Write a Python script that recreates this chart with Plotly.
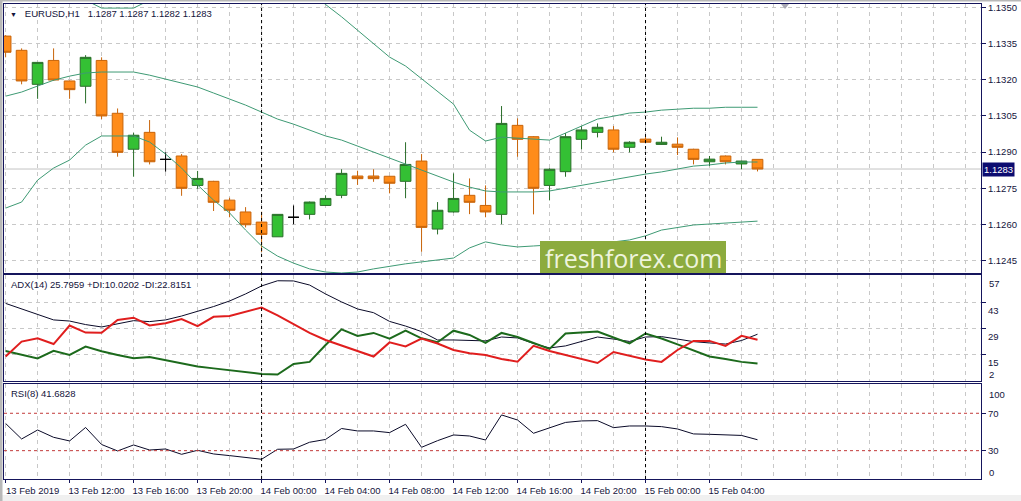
import plotly.graph_objects as go

# ---------------- data ----------------
symbol = "EURUSD,H1"
bars = list(range(48))  # hourly bars 13 Feb 08:00 ... 15 Feb 07:00
x_tick_bars = [0, 4, 8, 12, 16, 20, 24, 28, 32, 36, 40, 44]
x_tick_labels = ["13 Feb 2019", "13 Feb 12:00", "13 Feb 16:00", "13 Feb 20:00",
                 "14 Feb 00:00", "14 Feb 04:00", "14 Feb 08:00", "14 Feb 12:00",
                 "14 Feb 16:00", "14 Feb 20:00", "15 Feb 00:00", "15 Feb 04:00"]
day_separator_bars = [16, 40]

opens = [1.13381, 1.13322, 1.13181, 1.13280, 1.13195, 1.13173, 1.13280, 1.13061,
         1.12912, 1.12982, 1.12870, 1.12884, 1.12762, 1.12779, 1.12701, 1.12652,
         1.12610, 1.12549, 1.12630, 1.12642, 1.12679, 1.12721, 1.12801, 1.12801,
         1.12800, 1.12779, 1.12863, 1.12581, 1.12652, 1.12721, 1.12679, 1.12642,
         1.13011, 1.12964, 1.12762, 1.12819, 1.12953, 1.12982, 1.12992, 1.12920,
         1.12954, 1.12932, 1.12933, 1.12912, 1.12860, 1.12884, 1.12851, 1.12870]
highs = [1.13385, 1.13330, 1.13272, 1.13330, 1.13197, 1.13302, 1.13293, 1.13081,
         1.12980, 1.13033, 1.12899, 1.12892, 1.12822, 1.12781, 1.12711, 1.12672,
         1.12653, 1.12642, 1.12679, 1.12695, 1.12721, 1.12829, 1.12823, 1.12829,
         1.12801, 1.12941, 1.12892, 1.12693, 1.12812, 1.12791, 1.12762, 1.13091,
         1.13040, 1.12966, 1.12833, 1.12979, 1.13008, 1.13019, 1.13008, 1.12945,
         1.12963, 1.12964, 1.12961, 1.12914, 1.12884, 1.12886, 1.12865, 1.12870]
lows = [1.13293, 1.13181, 1.13121, 1.13195, 1.13121, 1.13102, 1.13037, 1.12881,
        1.12798, 1.12849, 1.12819, 1.12719, 1.12748, 1.12656, 1.12630, 1.12588,
        1.12486, 1.12549, 1.12601, 1.12621, 1.12677, 1.12709, 1.12764, 1.12777,
        1.12729, 1.12709, 1.12487, 1.12559, 1.12650, 1.12643, 1.12630, 1.12601,
        1.12881, 1.12642, 1.12700, 1.12798, 1.12912, 1.12961, 1.12899, 1.12899,
        1.12940, 1.12930, 1.12888, 1.12849, 1.12842, 1.12849, 1.12829, 1.12820]
closes = [1.13314, 1.13195, 1.13272, 1.13199, 1.13159, 1.13293, 1.13050, 1.12899,
          1.12970, 1.12860, 1.12870, 1.12750, 1.12791, 1.12692, 1.12659, 1.12599,
          1.12559, 1.12642, 1.12630, 1.12693, 1.12708, 1.12812, 1.12790, 1.12790,
          1.12771, 1.12849, 1.12588, 1.12659, 1.12708, 1.12692, 1.12652, 1.13019,
          1.12953, 1.12750, 1.12829, 1.12964, 1.12992, 1.13003, 1.12912, 1.12941,
          1.12941, 1.12941, 1.12920, 1.12870, 1.12871, 1.12860, 1.12863, 1.12830]

bb_upper = [1.13596, 1.13605, 1.13564, 1.13562, 1.13563, 1.13530, 1.13497, 1.13497,
            1.13497, 1.13530, 1.13560, 1.13538, 1.13576, 1.13589, 1.13592, 1.13613,
            1.13621, 1.13605, 1.13592, 1.13568, 1.13512, 1.13461, 1.13406, 1.13352,
            1.13294, 1.13257, 1.13203, 1.13149, 1.13099, 1.12991, 1.12946, 1.12962,
            1.12958, 1.12954, 1.12950, 1.12979, 1.13008, 1.13037, 1.13049, 1.13062,
            1.13066, 1.13074, 1.13078, 1.13082, 1.13082, 1.13086, 1.13086, 1.13086]
bb_middle = [1.13132, 1.13149, 1.13174, 1.13198, 1.13215, 1.13228, 1.13232, 1.13232,
             1.13232, 1.13219, 1.13203, 1.13186, 1.13170, 1.13145, 1.13120, 1.13095,
             1.13066, 1.13037, 1.13016, 1.12992, 1.12967, 1.12950, 1.12925, 1.12900,
             1.12876, 1.12851, 1.12826, 1.12801, 1.12776, 1.12755, 1.12739, 1.12735,
             1.12735, 1.12735, 1.12739, 1.12751, 1.12760, 1.12772, 1.12784, 1.12797,
             1.12809, 1.12818, 1.12830, 1.12842, 1.12847, 1.12855, 1.12859, 1.12859]
bb_lower = [1.12668, 1.12693, 1.12784, 1.12834, 1.12867, 1.12929, 1.12967, 1.12967,
            1.12967, 1.12942, 1.12892, 1.12834, 1.12764, 1.12701, 1.12648, 1.12577,
            1.12511, 1.12469, 1.12440, 1.12416, 1.12403, 1.12399, 1.12403, 1.12416,
            1.12428, 1.12437, 1.12445, 1.12453, 1.12461, 1.12503, 1.12528, 1.12515,
            1.12507, 1.12511, 1.12515, 1.12519, 1.12519, 1.12523, 1.12528, 1.12536,
            1.12553, 1.12577, 1.12589, 1.12598, 1.12602, 1.12606, 1.12610, 1.12614]

adx = [42.4, 39.4, 36.4, 33.5, 32.9, 31.0, 29.7, 31.3, 33.1, 32.6, 33.5, 35.6,
       38.0, 40.7, 43.7, 47.5, 51.8, 54.6, 54.5, 52.3, 47.5, 43.2, 39.4, 37.4,
       32.7, 30.2, 27.2, 22.7, 22.7, 22.4, 22.2, 24.3, 23.8, 20.8, 18.4, 19.5,
       21.9, 24.3, 23.2, 21.9, 24.3, 24.5, 23.2, 21.8, 21.1, 20.5, 22.4, 25.7959]
plus_di = [16.8, 14.6, 12.8, 16.9, 14.6, 19.1, 16.6, 14.6, 12.8, 13.5, 11.7, 10.0,
           8.4, 7.4, 6.3, 5.2, 4.4, 4.1, 9.8, 10.9, 20.0, 28.4, 24.9, 26.5,
           23.4, 27.7, 23.6, 21.5, 27.7, 25.4, 21.1, 26.5, 24.3, 21.1, 17.9, 26.2,
           26.7, 27.2, 24.0, 20.9, 26.2, 23.5, 20.3, 17.0, 13.8, 12.5, 10.9, 10.0202]
minus_di = [13.8, 21.8, 23.6, 20.5, 30.5, 26.7, 26.6, 33.5, 34.7, 30.5, 31.7, 34.0,
            30.2, 35.2, 35.6, 37.8, 40.2, 35.9, 31.0, 26.5, 22.7, 19.7, 16.8, 13.8,
            21.4, 19.2, 23.5, 20.8, 17.3, 15.5, 14.6, 12.5, 11.0, 19.5, 16.8, 14.6,
            12.5, 10.3, 16.2, 14.1, 12.2, 10.9, 17.3, 22.2, 22.2, 19.5, 24.9, 22.8151]
rsi = [59.1, 42.5, 52.1, 44.3, 40.4, 54.8, 36.6, 29.7, 36.1, 30.7, 31.8, 26.1,
       30.4, 26.5, 24.7, 22.9, 20.8, 31.5, 31.8, 39.0, 42.0, 53.7, 51.1, 51.1,
       49.3, 58.2, 33.6, 40.7, 46.8, 45.7, 41.4, 68.2, 62.8, 48.6, 54.3, 60.2,
       61.8, 62.1, 54.6, 56.4, 56.4, 55.7, 53.2, 47.9, 47.5, 47.2, 46.3, 41.6828]

price_ticks = [1.1245, 1.1260, 1.1275, 1.1290, 1.1305, 1.1320, 1.1335, 1.1350]
adx_ticks = [15, 29, 43]
adx_scale_labels = [57, 2]
rsi_levels = [30, 70]
rsi_scale_labels = [100, 0]

# ---------------- style ----------------
W, H = 1021, 501
ML, MR, MT, MB = 4, 40, 4, 22
PW, PH = W - ML - MR, H - MT - MB
NAVY = "#15155c"
TEXT = "#14143c"
GRID = "#c8c8c8"
BB = "#3e9a74"
FONT = "Liberation Sans"
FS = 9.5


def px_x(p):
    return (p - ML) / PW


def px_y(p):
    return (H - MB - p) / PH


dom_main = [px_y(273), 1.0]
dom_adx = [px_y(381), px_y(275)]
dom_rsi = [0.0, px_y(384)]
x_range = [-0.1, 60.97]

is_doji = [o == c for o, c in zip(opens, closes)]
normal = [not d for d in is_doji]


def pick(vals, keep):
    return [v if k else None for v, k in zip(vals, keep)]


fig = go.Figure()

fig.add_trace(go.Candlestick(
    x=bars, open=pick(opens, normal), high=pick(highs, normal),
    low=pick(lows, normal), close=pick(closes, normal),
    increasing=dict(fillcolor="#34c034", line=dict(color="#2a6e2a", width=1)),
    decreasing=dict(fillcolor="#ff8c1a", line=dict(color="#c8640a", width=1)),
    whiskerwidth=0, xaxis="x", yaxis="y", hoverinfo="skip"))
fig.add_trace(go.Candlestick(
    x=bars, open=pick(opens, is_doji), high=pick(highs, is_doji),
    low=pick(lows, is_doji), close=pick(closes, is_doji),
    increasing=dict(fillcolor="#000000", line=dict(color="#000000", width=1)),
    decreasing=dict(fillcolor="#000000", line=dict(color="#000000", width=1)),
    whiskerwidth=0, xaxis="x", yaxis="y", hoverinfo="skip"))

for band in (bb_upper, bb_middle, bb_lower):
    fig.add_trace(go.Scatter(x=bars, y=band, mode="lines",
                             line=dict(color=BB, width=1), xaxis="x", yaxis="y",
                             hoverinfo="skip"))

fig.add_trace(go.Scatter(x=bars, y=adx, mode="lines", line=dict(color="#0a0a28", width=1),
                         xaxis="x2", yaxis="y2", hoverinfo="skip"))
fig.add_trace(go.Scatter(x=bars, y=plus_di, mode="lines", line=dict(color="#1c6a1c", width=2),
                         xaxis="x2", yaxis="y2", hoverinfo="skip"))
fig.add_trace(go.Scatter(x=bars, y=minus_di, mode="lines", line=dict(color="#e01e1e", width=2),
                         xaxis="x2", yaxis="y2", hoverinfo="skip"))
fig.add_trace(go.Scatter(x=bars, y=rsi, mode="lines", line=dict(color="#0a0a28", width=1),
                         xaxis="x3", yaxis="y3", hoverinfo="skip"))

grid_minor = dict(tickmode="linear", tick0=0, dtick=2, showgrid=True,
                  gridcolor=GRID, griddash="4px,4px", gridwidth=1)
xcommon = dict(range=x_range, tickmode="array", tickvals=x_tick_bars, ticktext=x_tick_labels,
               showgrid=True, gridcolor=GRID, griddash="4px,4px", gridwidth=1,
               minor=grid_minor, showline=True, mirror=True, linecolor=NAVY, linewidth=1,
               zeroline=False, automargin=False, fixedrange=True,
               rangeslider=dict(visible=False))
ycommon = dict(side="right", showline=True, mirror=True, linecolor=NAVY, linewidth=1,
               zeroline=False, automargin=False, fixedrange=True, ticks="outside",
               ticklen=4, tickcolor=NAVY, tickfont=dict(family=FONT, size=FS, color=TEXT),
               gridcolor=GRID, griddash="4px,4px", gridwidth=1)

fig.update_layout(
    width=W, height=H, margin=dict(l=ML, r=MR, t=MT, b=MB, pad=0),
    template="none", paper_bgcolor="white", plot_bgcolor="white",
    showlegend=False, boxgap=0.33, boxgroupgap=0,
    font=dict(family=FONT, size=FS, color=TEXT),
    xaxis=dict(xcommon, anchor="y", showticklabels=False, ticks=""),
    xaxis2=dict(xcommon, anchor="y2", matches="x", showticklabels=False, ticks=""),
    xaxis3=dict(xcommon, anchor="y3", matches="x", showticklabels=True, ticks="outside",
                ticklen=3, tickcolor=NAVY, tickangle=0, ticklabelshift=27,
                tickfont=dict(family=FONT, size=FS, color=TEXT)),
    yaxis=dict(ycommon, domain=dom_main, anchor="x", range=[1.12399, 1.13514],
               tickmode="array", tickvals=price_ticks, tickformat=".4f", showgrid=True),
    yaxis2=dict(ycommon, domain=dom_adx, anchor="x2", range=[0.6, 57.7],
                tickmode="array", tickvals=adx_ticks, showgrid=True, ticklabelshift=8),
    yaxis3=dict(ycommon, domain=dom_rsi, anchor="x3", range=[-0.3, 101.3],
                tickmode="array", tickvals=rsi_levels, showgrid=False),
)

shapes = []
# period separators
for b in day_separator_bars:
    shapes.append(dict(type="line", xref="x", yref="paper", x0=b, x1=b, y0=0, y1=1,
                       line=dict(color="#000000", width=1, dash="3px,3px"), layer="above"))
# bid line
shapes.append(dict(type="line", xref="x domain", yref="y", x0=0, x1=1,
                   y0=closes[-1], y1=closes[-1], line=dict(color="#c4c4c4", width=1),
                   layer="below"))
# RSI levels
for lv in rsi_levels:
    shapes.append(dict(type="line", xref="x3 domain", yref="y3", x0=0, x1=1, y0=lv, y1=lv,
                       line=dict(color="#c23a3a", width=1, dash="3px,3px"), layer="above"))
# watermark box
shapes.append(dict(type="rect", xref="paper", yref="paper", x0=px_x(540), x1=px_x(726),
                   y0=px_y(273), y1=px_y(241), fillcolor="#8cab3e", line=dict(width=0),
                   layer="above"))
# outer window edges
shapes.append(dict(type="rect", xref="paper", yref="paper", x0=px_x(0), x1=px_x(W),
                   y0=px_y(H), y1=px_y(495), fillcolor="#f0f0f0", line=dict(width=0)))
shapes.append(dict(type="rect", xref="paper", yref="paper", x0=px_x(0), x1=px_x(2.5),
                   y0=px_y(H), y1=px_y(0), fillcolor="#b8b8b8", line=dict(width=0)))
shapes.append(dict(type="rect", xref="paper", yref="paper", x0=px_x(0), x1=px_x(W),
                   y0=px_y(1.5), y1=px_y(0), fillcolor="#b8b8b8", line=dict(width=0)))
# chart shift marker
shapes.append(dict(type="path", xref="paper", yref="paper",
                   path="M {} {} L {} {} L {} {} Z".format(px_x(781), px_y(4), px_x(789), px_y(4),
                                                            px_x(785), px_y(9)),
                   fillcolor="#a8a8b4", line=dict(width=0), layer="above"))
fig.update_layout(shapes=shapes)

ann = []
ann.append(dict(xref="paper", yref="paper", x=px_x(8), y=px_y(13.5), xanchor="left",
                yanchor="middle", showarrow=False,
                text="<span style='font-size:7px'>\u25bc</span>\u00a0\u00a0\u00a0" + symbol + "\u00a0\u00a0\u00a0"
                     + " ".join("{:.4f}".format(v) for v in (opens[-1], highs[-1], lows[-1], closes[-1])),
                font=dict(family=FONT, size=FS, color=TEXT)))
ann.append(dict(xref="paper", yref="paper", x=px_x(9), y=px_y(285), xanchor="left",
                yanchor="middle", showarrow=False,
                text="ADX(14) {:.4f} +DI:{:.4f} -DI:{:.4f}".format(adx[-1], plus_di[-1], minus_di[-1]),
                font=dict(family=FONT, size=FS, color=TEXT)))
ann.append(dict(xref="paper", yref="paper", x=px_x(9), y=px_y(393), xanchor="left",
                yanchor="middle", showarrow=False, text="RSI(8) {:.4f}".format(rsi[-1]),
                font=dict(family=FONT, size=FS, color=TEXT)))
# scale end labels
for v, sh in zip(adx_scale_labels, (-7, 4)):
    ann.append(dict(xref="paper", yref="y2", x=1, y=v, xanchor="left", yanchor="middle",
                    xshift=6, yshift=sh, showarrow=False, text=str(v),
                    font=dict(family=FONT, size=FS, color=TEXT)))
for v, sh in zip(rsi_scale_labels, (-9, 6)):
    ann.append(dict(xref="paper", yref="y3", x=1, y=v, xanchor="left", yanchor="middle",
                    xshift=6, yshift=sh, showarrow=False, text=str(v),
                    font=dict(family=FONT, size=FS, color=TEXT)))
# current price box
ann.append(dict(xref="paper", yref="y", x=1, y=closes[-1], xanchor="left", yanchor="middle",
                xshift=1, showarrow=False, text="{:.4f}".format(closes[-1]),
                bgcolor="#0c0c70", borderpad=1,
                font=dict(family=FONT, size=FS, color="#ffffff")))
# watermark text
ann.append(dict(xref="paper", yref="paper", x=px_x(633), y=px_y(258), xanchor="center",
                yanchor="middle", showarrow=False, text="freshforex.com",
                font=dict(family="Open Sans", size=25, color="#eef4dc")))
fig.update_layout(annotations=ann)

fig.write_html("out.html", config={"displayModeBar": False},
               post_script="document.body.style.margin='0';document.body.style.overflow='hidden';")
